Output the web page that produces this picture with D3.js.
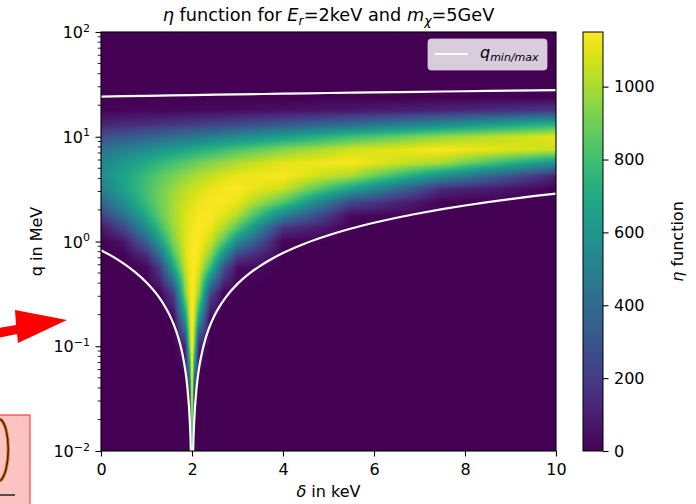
<!DOCTYPE html>
<html>
<head>
<meta charset="utf-8">
<script src="https://cdn.jsdelivr.net/npm/d3@7"></script>
<style>
  body { margin: 0; background: #fff; }
  svg text { font-family: "DejaVu Sans", sans-serif; fill: #000; }
</style>
</head>
<body>
<div id="chart"></div>
<script>
// eta map: columns are delta in keV, rows are log10(q / MeV)
const deltaCols = [0, 0.5, 1, 1.3, 1.6, 1.85, 1.95, 1.99, 2, 2.01, 2.05, 2.15, 2.4, 2.7, 3, 4, 5.5, 7.5, 10];
const logqRows = [-2, -1.75, -1.5, -1.25, -1, -0.75, -0.5, -0.25, -0.125, 0, 0.125, 0.25, 0.375,
                  0.5, 0.625, 0.75, 0.875, 1, 1.125, 1.25, 1.375, 1.5, 2];
const etaRows = [
  [0, 0, 0, 0, 0, 0, 0, 445, 1150, 445, 0, 0, 0, 0, 0, 0, 0, 0, 0],
  [0, 0, 0, 0, 0, 0, 0, 876, 1150, 878, 0, 0, 0, 0, 0, 0, 0, 0, 0],
  [0, 0, 0, 0, 0, 0, 70, 1052, 1150, 1055, 72, 0, 0, 0, 0, 0, 0, 0, 0],
  [0, 0, 0, 0, 0, 0, 550, 1113, 1150, 1118, 560, 0, 0, 0, 0, 0, 0, 0, 0],
  [0, 0, 0, 0, 0, 97, 922, 1135, 1150, 1139, 937, 104, 0, 0, 0, 0, 0, 0, 0],
  [0, 0, 0, 0, 0, 585, 1062, 1141, 1148, 1145, 1079, 617, 0, 0, 0, 0, 0, 0, 0],
  [0, 0, 0, 0, 209, 925, 1110, 1142, 1146, 1150, 1130, 972, 252, 0, 0, 0, 0, 0, 0],
  [0, 0, 18, 206, 678, 1050, 1125, 1141, 1143, 1145, 1146, 1102, 791, 286, 35, 0, 0, 0, 0],
  [0, 2, 144, 437, 838, 1075, 1126, 1140, 1141, 1143, 1150, 1130, 960, 585, 235, 0, 0, 0, 0],
  [2, 65, 356, 644, 930, 1085, 1124, 1135, 1138, 1139, 1144, 1144, 1061, 845, 542, 11, 0, 0, 0],
  [56, 235, 560, 789, 980, 1087, 1119, 1126, 1127, 1131, 1138, 1148, 1120, 1006, 830, 167, 0, 0, 0],
  [205, 425, 705, 870, 1000, 1080, 1104, 1113, 1115, 1118, 1124, 1139, 1145, 1100, 1012, 510, 24, 0, 0],
  [372, 573, 788, 905, 998, 1061, 1082, 1088, 1089, 1092, 1100, 1117, 1141, 1143, 1114, 843, 248, 2, 0],
  [495, 652, 813, 900, 972, 1025, 1046, 1052, 1054, 1055, 1061, 1077, 1110, 1138, 1150, 1054, 650, 137, 0],
  [546, 667, 788, 857, 917, 962, 979, 985, 987, 990, 995, 1011, 1048, 1083, 1114, 1144, 996, 558, 110],
  [523, 614, 705, 760, 812, 855, 870, 876, 878, 880, 885, 903, 936, 975, 1012, 1104, 1142, 990, 581],
  [430, 495, 560, 600, 640, 675, 688, 694, 695, 696, 702, 715, 750, 790, 830, 942, 1070, 1148, 1054],
  [275, 313, 356, 382, 408, 432, 440, 445, 445, 445, 450, 460, 483, 513, 540, 644, 796, 966, 1106],
  [104, 126, 144, 156, 168, 178, 183, 185, 185, 185, 187, 191, 202, 220, 234, 288, 381, 521, 711],
  [12, 15, 18, 20, 22, 25, 25, 25, 25, 25, 25, 27, 29, 32, 35, 48, 70, 115, 188],
  [0, 0, 0, 0, 0, 0, 0, 0, 0, 0, 0, 0, 0, 0, 0, 0, 0, 1, 3],
  [0, 0, 0, 0, 0, 0, 0, 0, 0, 0, 0, 0, 0, 0, 0, 0, 0, 0, 0],
  [0, 0, 0, 0, 0, 0, 0, 0, 0, 0, 0, 0, 0, 0, 0, 0, 0, 0, 0]
];
const etaMax = 1150;

// q_min / q_max lines, [delta keV, q MeV]
const qMinCurve = [
  [0, 0.827], [0.25, 0.721], [0.5, 0.615], [0.75, 0.51], [1, 0.406], [1.25, 0.304],
  [1.4, 0.2424], [1.5, 0.2015], [1.6, 0.161], [1.7, 0.1205], [1.75, 0.1004], [1.8, 0.0803],
  [1.85, 0.06], [1.9, 0.04], [1.95, 0.02], [1.975, 0.01], [1.99, 0.004], [2, 0.002],
  [2.01, 0.004], [2.025, 0.01], [2.05, 0.02], [2.1, 0.04], [2.15, 0.0599], [2.2, 0.0795],
  [2.3, 0.1195], [2.4, 0.159], [2.5, 0.1985], [2.6, 0.2377], [2.75, 0.2966], [3, 0.394],
  [3.25, 0.4904], [3.5, 0.586], [3.75, 0.6816], [4, 0.776], [4.5, 0.963], [5, 1.147],
  [5.5, 1.3295], [6, 1.509], [6.5, 1.6865], [7, 1.86], [7.5, 2.0345], [8, 2.205],
  [8.5, 2.3745], [9, 2.54], [9.5, 2.707], [10, 2.87]
];
const qMaxCurve = [
  [0, 24.17], [1, 24.59], [2, 25.0], [3, 25.39], [4, 25.78], [5, 26.15],
  [6, 26.51], [7, 26.86], [8, 27.2], [9, 27.54], [10, 27.87]
];

const xTicks = [0, 2, 4, 6, 8, 10];
const yTicks = [0.01, 0.1, 1, 10, 100];
const yTickExp = ["\u22122", "\u22121", "0", "1", "2"];
const cbarTicks = [0, 200, 400, 600, 800, 1000];

const W = 696, H = 504;
const plot = { left: 101, right: 556, top: 32, bottom: 451 };
const cbar = { left: 583, right: 603 };

const svg = d3.select("#chart").append("svg")
  .attr("width", W)
  .attr("height", H);

const x = d3.scaleLinear().domain([0, 10]).range([plot.left, plot.right]);
const y = d3.scaleLog().domain([0.01, 100]).range([plot.bottom, plot.top]);
const color = d3.scaleSequential(d3.interpolateViridis).domain([0, etaMax]);

// --- heat map, drawn into a canvas then put in the svg as an image
const pw = plot.right - plot.left, ph = plot.bottom - plot.top;
const canvas = document.createElement("canvas");
canvas.width = pw;
canvas.height = ph;
const ctx = canvas.getContext("2d");
const img = ctx.createImageData(pw, ph);
const lut = d3.range(etaMax + 1).map(v => d3.rgb(color(v)));

function locate(arr, v) {
  let i = d3.bisectRight(arr, v) - 1;
  i = Math.max(0, Math.min(arr.length - 2, i));
  const t = Math.max(0, Math.min(1, (v - arr[i]) / (arr[i + 1] - arr[i])));
  return [i, t];
}

for (let py = 0; py < ph; py++) {
  const lq = Math.log10(y.invert(plot.top + py + 0.5));
  const [i, ti] = locate(logqRows, lq);
  for (let px = 0; px < pw; px++) {
    const d = x.invert(plot.left + px + 0.5);
    const [j, tj] = locate(deltaCols, d);
    const a = etaRows[i][j] * (1 - tj) + etaRows[i][j + 1] * tj;
    const b = etaRows[i + 1][j] * (1 - tj) + etaRows[i + 1][j + 1] * tj;
    const v = Math.round(a * (1 - ti) + b * ti);
    const c = lut[Math.max(0, Math.min(etaMax, v))];
    const k = 4 * (py * pw + px);
    img.data[k] = c.r;
    img.data[k + 1] = c.g;
    img.data[k + 2] = c.b;
    img.data[k + 3] = 255;
  }
}
ctx.putImageData(img, 0, 0);

svg.append("image")
  .attr("x", plot.left)
  .attr("y", plot.top)
  .attr("width", pw)
  .attr("height", ph)
  .attr("preserveAspectRatio", "none")
  .attr("href", canvas.toDataURL());

// --- q_min / q_max lines
svg.append("clipPath").attr("id", "plotclip")
  .append("rect")
  .attr("x", plot.left).attr("y", plot.top)
  .attr("width", pw).attr("height", ph);

const line = d3.line()
  .x(d => x(d[0]))
  .y(d => y(d[1]))
  .curve(d3.curveMonotoneX);
svg.append("g")
  .attr("clip-path", "url(#plotclip)")
  .selectAll("path")
  .data([qMinCurve, qMaxCurve])
  .join("path")
  .attr("d", line)
  .attr("fill", "none")
  .attr("stroke", "#fff")
  .attr("stroke-width", 2.2);

// frame
svg.append("rect")
  .attr("x", plot.left).attr("y", plot.top)
  .attr("width", pw).attr("height", ph)
  .attr("fill", "none")
  .attr("stroke", "#000")
  .attr("stroke-width", 1.1);

// --- x axis
const xAxis = svg.append("g")
  .attr("transform", `translate(0,${plot.bottom})`)
  .call(d3.axisBottom(x).tickValues(xTicks).tickSize(5.5).tickPadding(7).tickFormat(d3.format("d")));
xAxis.select(".domain").remove();
xAxis.selectAll("line").attr("stroke-width", 1.1);
xAxis.selectAll("text").style("font-size", "16px").style("font-family", "DejaVu Sans");

// --- y axis (log)
const yAxis = svg.append("g")
  .attr("transform", `translate(${plot.left},0)`)
  .call(d3.axisLeft(y).tickValues(yTicks).tickSize(5.5).tickPadding(5.5).tickFormat(() => ""));
yAxis.select(".domain").remove();
yAxis.selectAll("line").attr("stroke-width", 1.1);
yAxis.selectAll(".tick text")
  .style("font-size", "16px")
  .style("font-family", "DejaVu Sans")
  .attr("dy", null)
  .attr("y", 5.5)
  .each(function (d, i) {
    const t = d3.select(this);
    t.append("tspan").text("10");
    t.append("tspan").attr("dy", -6.5).style("font-size", "11px").text(yTickExp[i]);
  });

const minorTicks = [];
for (let e = -2; e < 2; e++) {
  for (let m = 2; m <= 9; m++) minorTicks.push(m * Math.pow(10, e));
}
yAxis.selectAll(".minor")
  .data(minorTicks)
  .join("line")
  .attr("class", "minor")
  .attr("x1", 0).attr("x2", -3.2)
  .attr("y1", d => y(d)).attr("y2", d => y(d))
  .attr("stroke", "#000")
  .attr("stroke-width", 0.9);

// --- axis labels and title
const xLabel = svg.append("text")
  .attr("x", (plot.left + plot.right) / 2)
  .attr("y", 497)
  .attr("text-anchor", "middle")
  .style("font-size", "16px");
xLabel.append("tspan").style("font-style", "italic").text("\u03b4");
xLabel.append("tspan").text(" in keV");

svg.append("text")
  .attr("transform", `translate(42,${(plot.top + plot.bottom) / 2}) rotate(-90)`)
  .attr("text-anchor", "middle")
  .style("font-size", "16px")
  .text("q in MeV");

const title = svg.append("text")
  .attr("x", (plot.left + plot.right) / 2)
  .attr("y", 21)
  .attr("text-anchor", "middle")
  .style("font-size", "17.7px");
title.append("tspan").style("font-style", "italic").text("\u03b7");
title.append("tspan").text(" function for ");
title.append("tspan").style("font-style", "italic").text("E");
title.append("tspan").style("font-style", "italic").style("font-size", "12.5px").attr("dy", 3.5).text("r");
title.append("tspan").attr("dy", -3.5).text("=2keV and ");
title.append("tspan").style("font-style", "italic").text("m");
title.append("tspan").style("font-style", "italic").style("font-size", "12.5px").attr("dy", 3.5).text("\u03c7");
title.append("tspan").attr("dy", -3.5).text("=5GeV");

// --- legend
const legend = svg.append("g");
legend.append("rect")
  .attr("x", 428).attr("y", 39)
  .attr("width", 119).attr("height", 31)
  .attr("rx", 3)
  .attr("fill", "rgba(255,255,255,0.8)")
  .attr("stroke", "rgba(204,204,204,0.8)");
legend.append("line")
  .attr("x1", 435).attr("x2", 468)
  .attr("y1", 54).attr("y2", 54)
  .attr("stroke", "#fff")
  .attr("stroke-width", 2.2);
const legText = legend.append("text")
  .attr("x", 480).attr("y", 58)
  .style("font-size", "16px")
  .style("font-style", "italic");
legText.append("tspan").text("q");
legText.append("tspan").attr("dy", 3).style("font-size", "11px").text("min/max");

// --- colour bar
const cScale = d3.scaleLinear().domain([0, etaMax]).range([plot.bottom, plot.top]);
const grad = svg.append("defs").append("linearGradient")
  .attr("id", "viridis")
  .attr("x1", 0).attr("y1", 1).attr("x2", 0).attr("y2", 0);
grad.selectAll("stop")
  .data(d3.range(0, 1.0001, 0.02))
  .join("stop")
  .attr("offset", d => d)
  .attr("stop-color", d => d3.interpolateViridis(d));

svg.append("rect")
  .attr("x", cbar.left).attr("y", plot.top)
  .attr("width", cbar.right - cbar.left).attr("height", ph)
  .attr("fill", "url(#viridis)")
  .attr("stroke", "#000")
  .attr("stroke-width", 1);

const cAxis = svg.append("g")
  .attr("transform", `translate(${cbar.right},0)`)
  .call(d3.axisRight(cScale).tickValues(cbarTicks).tickSize(5.5).tickPadding(5.5).tickFormat(d3.format("d")));
cAxis.select(".domain").remove();
cAxis.selectAll("line").attr("stroke-width", 1.1);
cAxis.selectAll("text").style("font-size", "16px").style("font-family", "DejaVu Sans");

const cLabel = svg.append("text")
  .attr("transform", `translate(683,${(plot.top + plot.bottom) / 2}) rotate(-90)`)
  .attr("text-anchor", "middle")
  .style("font-size", "16px");
cLabel.append("tspan").style("font-style", "italic").text("\u03b7");
cLabel.append("tspan").text(" function");

// --- red annotations on the left edge of the screenshot
svg.append("path")
  .attr("d", "M-2,328 L16,325 L15,310 L67,320 L18,343 L17,334 L-2,338 Z")
  .attr("fill", "#ff0000");

svg.append("rect")
  .attr("x", -1).attr("y", 415)
  .attr("width", 31).attr("height", 95)
  .attr("fill", "#fcc3c3")
  .attr("stroke", "#ff2020")
  .attr("stroke-width", 1);
svg.append("path")
  .attr("d", "M0,419 C11,426 11,472 0,481")
  .attr("fill", "none")
  .attr("stroke", "#e08a30")
  .attr("stroke-width", 3.5);
svg.append("path")
  .attr("d", "M0,419 C11,426 11,472 0,481")
  .attr("fill", "none")
  .attr("stroke", "#4a1a08")
  .attr("stroke-width", 1.5);
svg.append("line")
  .attr("x1", 0).attr("x2", 15)
  .attr("y1", 495).attr("y2", 495)
  .attr("stroke", "#222")
  .attr("stroke-width", 1.5);
</script>
</body>
</html>
